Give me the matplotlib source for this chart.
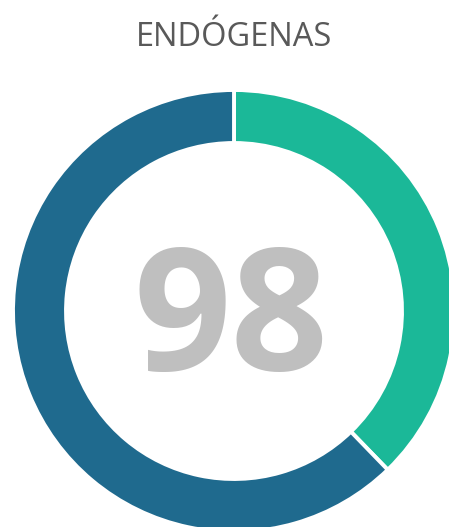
import matplotlib.pyplot as plt

# valores del anillo
labels = ["Grupo A", "Grupo B"]
values = [37, 61]
colors = ["#1BB898", "#1F6A8E"]
total = 98
title = "ENDÓGENAS"

fig = plt.figure(figsize=(4.49, 5.27), dpi=100)
ax = fig.add_axes([0, 0, 1, 1])

# anillo centrado en coordenadas de pixel
ax.pie(values, colors=colors, startangle=90, counterclock=False,
       center=(234, 216), radius=221,
       wedgeprops=dict(width=53, edgecolor="white", linewidth=2.8))
ax.set_xlim(0, 449)
ax.set_ylim(0, 527)
ax.set_aspect("equal")
ax.axis("off")

ax.text(231, 157, str(total), ha="center", va="baseline", fontsize=123,
        fontweight="bold", color="#BFBFBF", family="Open Sans")
fig.text(234 / 449, 1 - 37 / 527, title, ha="center", va="center",
         fontsize=23.5, color="#595959", family="Open Sans")

fig.savefig("out.png", dpi=100)
